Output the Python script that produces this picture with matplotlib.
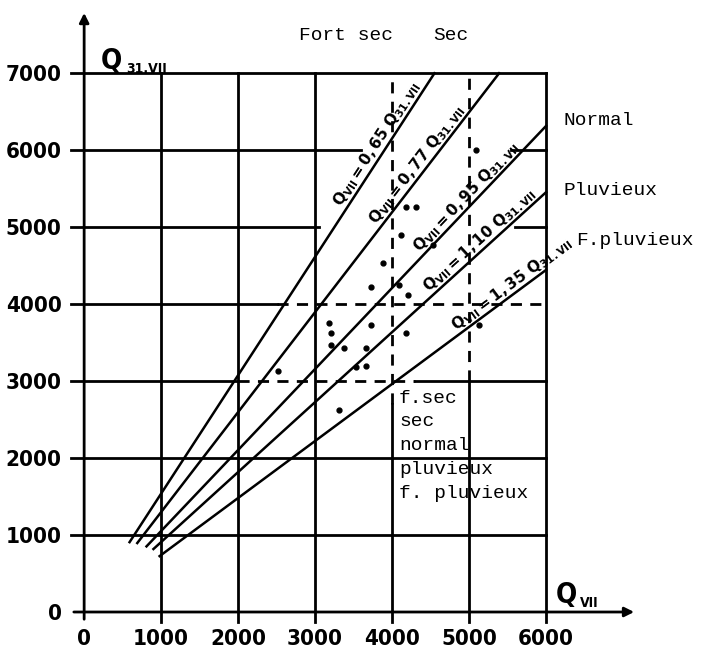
import numpy as np
import matplotlib
matplotlib.use("Agg")
import matplotlib.pyplot as plt

# ratios Q_VII = k * Q_31.VII  (x = Q_VII, y = Q_31.VII)
ratios = [0.65, 0.77, 0.95, 1.10, 1.35]
ratio_labels = ["0,65", "0,77", "0,95", "1,10", "1,35"]
line_start_x = [590, 690, 810, 900, 980]
# label anchor (point on each line, x value)
label_x = [3908, 4421, 5050, 5213, 5624]

# observed years (Q_VII, Q_31.VII)
obs_x = [5090, 4180, 4310, 4117, 4532, 3883, 3727, 4091, 4208, 3182, 3208, 3727,
         4182, 5130, 3208, 3377, 3662, 3532, 3662, 2520, 3312]
obs_y = [6000, 5260, 5260, 4896, 4766, 4532, 4221, 4247, 4117, 3753, 3623, 3727,
         3623, 3727, 3468, 3429, 3429, 3182, 3195, 3130, 2623]

xticks = [0, 1000, 2000, 3000, 4000, 5000, 6000]
yticks = [0, 1000, 2000, 3000, 4000, 5000, 6000, 7000]

zone_names = ["Fort sec", "Sec"]
class_names = ["Normal", "Pluvieux", "F.pluvieux"]
legend_lines = ["f.sec", "sec", "normal", "pluvieux", "f. pluvieux"]

fig = plt.figure(figsize=(7.12, 6.62), dpi=100)
ax = fig.add_axes([68.75 / 712, 38.45 / 662, 581.25 / 712, 619.55 / 662])
ax.set_xlim(-200, 7350)
ax.set_ylim(-150, 7900)
for s in ax.spines.values():
    s.set_visible(False)

lw = 2.0
k = "black"
# grid, solid parts
for y in [1000, 2000, 7000]:
    ax.plot([-170, 6000], [y, y], color=k, lw=lw)
ax.plot([-170, 2000], [3000, 3000], color=k, lw=lw)
ax.plot([2000, 4300], [3000, 3000], color=k, lw=lw, ls=(0, (4, 3)))
ax.plot([4300, 6000], [3000, 3000], color=k, lw=lw)
ax.plot([-170, 2500], [4000, 4000], color=k, lw=lw)
ax.plot([2500, 6000], [4000, 4000], color=k, lw=lw, ls=(0, (4, 3)))
ax.plot([-170, 3050], [5000, 5000], color=k, lw=lw)
ax.plot([5600, 6000], [5000, 5000], color=k, lw=lw)
ax.plot([-170, 3600], [6000, 6000], color=k, lw=lw)
ax.plot([5550, 6000], [6000, 6000], color=k, lw=lw)
for x in [1000, 2000, 3000, 6000]:
    ax.plot([x, x], [-130, 7000], color=k, lw=lw)
ax.plot([4000, 4000], [-130, 2700], color=k, lw=lw)
ax.plot([4000, 4000], [2700, 7000], color=k, lw=lw, ls=(0, (4, 3)))
ax.plot([5000, 5000], [-130, 3000], color=k, lw=lw)
ax.plot([5000, 5000], [3000, 7000], color=k, lw=lw, ls=(0, (4, 3)))

# axes with arrows
ax.annotate("", xy=(7180, 0), xytext=(-170, 0),
            arrowprops=dict(arrowstyle="-|>", color=k, lw=lw, mutation_scale=14))
ax.annotate("", xy=(0, 7820), xytext=(0, -130),
            arrowprops=dict(arrowstyle="-|>", color=k, lw=lw, mutation_scale=14))

# ratio lines
for r, lab, x0, lx in zip(ratios, ratio_labels, line_start_x, label_x):
    x1 = min(6000, 7000 * r)
    xs = np.array([x0, x1])
    ax.plot(xs, xs / r, color=k, lw=1.8)
    ang = np.degrees(np.arctan2(1 / r, 1))
    ax.text(lx, lx / r, r"$\mathbf{Q_{VII}=" + lab + r"\ Q_{31.VII}}$",
            rotation=ang, rotation_mode="anchor", transform_rotates_text=True,
            ha="center", va="bottom", fontsize=11)

ax.plot(obs_x, obs_y, "o", color=k, ms=3.5)

# ticks
tick_font = dict(family="DejaVu Sans", weight="bold", size=16, stretch="condensed")
ax.set_xticks(xticks)
ax.set_xticklabels([str(v) for v in xticks], fontdict=tick_font)
ax.set_yticks(yticks)
ax.set_yticklabels([str(v) for v in yticks], fontdict=tick_font)
ax.tick_params(length=0)
ax.tick_params(axis="x", pad=4)
ax.tick_params(axis="y", pad=5)

# axis names
name_font = dict(family="DejaVu Sans", fontweight="bold", stretch="condensed")
ax.text(220, 7060, "Q", fontsize=20, **name_font)
ax.text(540, 7000, "31.VII", fontsize=10, **name_font)
ax.text(6130, 120, "Q", fontsize=20, **name_font)
ax.text(6440, 70, "VII", fontsize=10, **name_font)

mono = dict(family="Liberation Mono", fontsize=14)
for name, x in zip(zone_names, [3400, 4770]):
    ax.text(x, 7490, name, ha="center", va="center", **mono)
for name, x, y in zip(class_names, [6220, 6220, 6390], [6390, 5480, 4830]):
    ax.text(x, y, name, ha="left", va="center", **mono)
for i, name in enumerate(legend_lines):
    ax.text(4090, 2780 - i * 310, name, ha="left", va="center", **mono)

fig.savefig("out.png", dpi=100)
